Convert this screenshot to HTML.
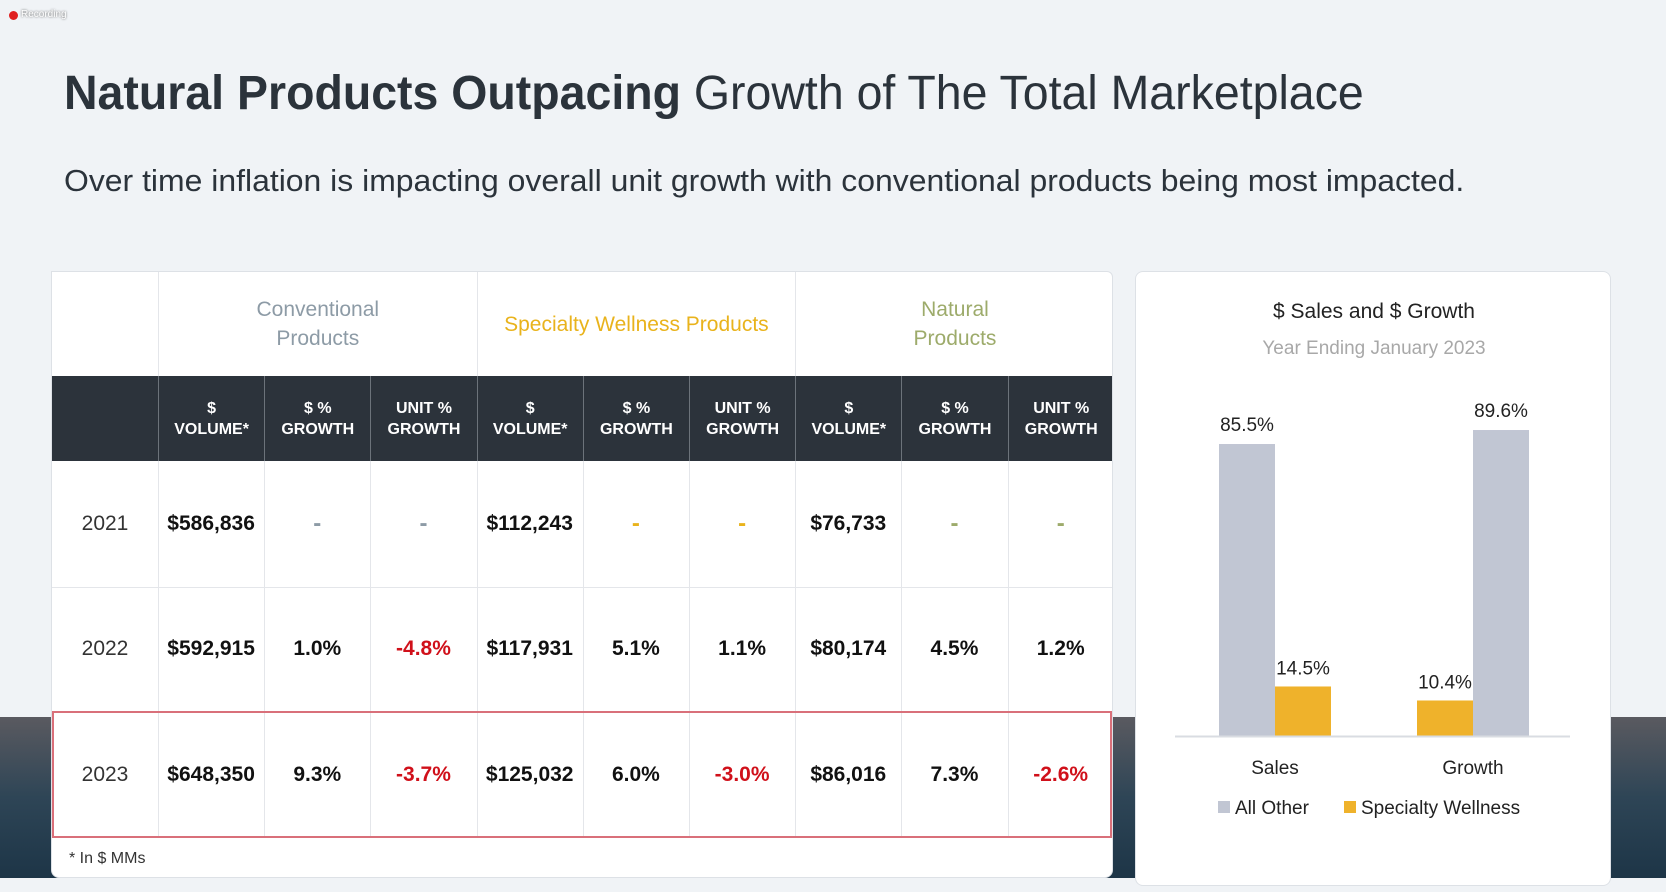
<!DOCTYPE html>
<html><head><meta charset="utf-8"><style>
*{margin:0;padding:0;box-sizing:border-box}
body{width:1666px;height:878px;overflow:hidden;background:#f0f3f6;font-family:"Liberation Sans",sans-serif;position:relative}
.abs{position:absolute}
#bottom{left:0;top:717px;width:1666px;height:161px;background:linear-gradient(180deg,#5a5a60 0%,#2e4556 50%,#1d3547 100%)}
#title{left:64px;top:66px;font-size:48px;color:#2b333b;white-space:nowrap;transform-origin:0 0;transform:scaleX(0.968)}
#sub{left:64px;top:163px;font-size:31px;color:#2b333b;white-space:nowrap;transform-origin:0 0;transform:scaleX(1.03)}
#table{left:51px;top:271px;width:1062px;height:607px;background:#fff;border-radius:0 6px 8px 8px;border:1px solid #dde1e6;overflow:hidden}
.cell{position:absolute;display:flex;align-items:center;justify-content:center;text-align:center}
.hd{background:#2c333b;color:#fff;font-weight:bold;font-size:16px;line-height:21px;border-left:1px solid #6c737a}
.grp{font-size:21px;line-height:29px}
.v{font-size:21px;font-weight:bold;color:#111}
.yr{font-size:21px;color:#333}
.vl{position:absolute;width:1px;background:#e4e6ea}
#panel{left:1135px;top:271px;width:476px;height:615px;background:#fff;border:1px solid #dde1e6;border-radius:8px}
</style></head><body>
<div class="abs" id="bottom"></div>
<div class="abs" style="left:9px;top:11px;width:9px;height:9px;border-radius:50%;background:#e02020"></div>
<div class="abs" style="left:21px;top:9px;font-size:10px;color:#fff;text-shadow:0 0 2px #555">Recording</div>
<div class="abs" id="title"><b>Natural Products Outpacing</b> Growth of The Total Marketplace</div>
<div class="abs" id="sub">Over time inflation is impacting overall unit growth with conventional products being most impacted.</div>

<div class="abs" id="table"></div>

<div class="abs" id="panel">
<svg id="chart" width="476" height="615"></svg>
</div>

<script>
// ---------- table ----------
const groups=["Conventional<br>Products","Specialty Wellness Products","Natural<br>Products"];
const groupColors=["#8d9ba6","#e9b31c","#9dab6b"];
const subHeads=["$<br>VOLUME*","$ %<br>GROWTH","UNIT %<br>GROWTH"];
const years=["2021","2022","2023"];
const rows=[
 ["$586,836","-","-","$112,243","-","-","$76,733","-","-"],
 ["$592,915","1.0%","-4.8%","$117,931","5.1%","1.1%","$80,174","4.5%","1.2%"],
 ["$648,350","9.3%","-3.7%","$125,032","6.0%","-3.0%","$86,016","7.3%","-2.6%"]
];
const T=document.getElementById('table');
const c0=106, cw=106.2, hH=104, dH=85, rH=125.5;
function mk(html,cls,x,y,w,h,st){const d=document.createElement('div');d.className='cell '+cls;d.innerHTML=html;
 d.style.left=x+'px';d.style.top=y+'px';d.style.width=w+'px';d.style.height=h+'px';if(st)d.style.cssText+=st;T.appendChild(d);return d;}
groups.forEach((g,i)=>{const d=mk(g,'grp',c0+i*3*cw,0,3*cw,hH,'color:'+groupColors[i]+';border-left:1px solid #e4e6ea');
 
 });
const hb=mk('','hd',0,hH,c0,dH,'border-left:none');


for(let i=0;i<9;i++){const d=mk(subHeads[i%3],'hd',c0+i*cw,hH,cw,dH);
 
 }
for(let i=1;i<10;i++){const l=document.createElement('div');l.className='vl';l.style.left=(c0+(i-1)*cw)+'px';l.style.top=(hH+dH)+'px';l.style.height=(3*rH)+'px';T.appendChild(l);}
years.forEach((y,r)=>{const top=hH+dH+r*rH;
 const yd=mk(y,'yr',0,top,c0,rH);
 
 
 if(r<2){const hl=document.createElement('div');hl.className='vl';hl.style.cssText+='left:0;width:100%;height:1px;top:'+(top+rH)+'px';T.appendChild(hl);}
 rows[r].forEach((v,i)=>{let col='#111';
  if(v==='-')col=groupColors[Math.floor(i/3)];else if(v[0]==='-')col='#d0101a';
  const d=mk(v==='-'?'<span style="font-size:24px">-</span>':v,'v',c0+i*cw,top,cw,rH,'color:'+col);
  
  });
});
const hi=document.createElement('div');hi.style.cssText='position:absolute;left:0;top:'+(hH+dH+2*rH-1)+'px;width:1060px;height:'+(rH+1)+'px;border:2px solid #d9707a';


T.appendChild(hi);
const fn=document.createElement('div');fn.textContent='* In $ MMs';fn.style.cssText='position:absolute;left:17px;top:578px;font-size:16px;color:#333';


T.appendChild(fn);

// ---------- chart ----------
const categories=["Sales","Growth"];
const allOther=[85.5,89.6];
const specialty=[14.5,10.4];
const seriesNames=["All Other","Specialty Wellness"];
const NS='http://www.w3.org/2000/svg';
const S=document.getElementById('chart');
const baseY=464, pxPer=3.415, barW=56;
const catX=[139,337];
function yScale(v){return baseY-v*pxPer;}
function el(t,a,txt){const e=document.createElementNS(NS,t);for(const k in a)e.setAttribute(k,a[k]);if(txt!==undefined)e.textContent=txt;S.appendChild(e);return e;}
let t=el('text',{x:238,y:46,'text-anchor':'middle','font-size':21,fill:'#222'},'$ Sales and $ Growth');


t=el('text',{x:238,y:82,'text-anchor':'middle','font-size':19,fill:'#a8a8a8'},'Year Ending January 2023');


categories.forEach((c,i)=>{
  const cx=catX[i];
  const grayFirst = i===0;
  const gx = grayFirst? cx-barW : cx;
  const ox = grayFirst? cx : cx-barW;
  const g=el('rect',{x:gx,y:yScale(allOther[i]),width:barW,height:allOther[i]*pxPer,fill:'#c1c6d3'});
  
  
  const o=el('rect',{x:ox,y:yScale(specialty[i]),width:barW,height:specialty[i]*pxPer,fill:'#efb22b'});
  
  
  let l=el('text',{x:gx+barW/2,y:yScale(allOther[i])-13,'text-anchor':'middle','font-size':19,fill:'#222'},allOther[i].toFixed(1)+'%');
  
  
  l=el('text',{x:ox+barW/2,y:yScale(specialty[i])-12,'text-anchor':'middle','font-size':19,fill:'#222'},specialty[i].toFixed(1)+'%');
  
  
  l=el('text',{x:cx,y:502,'text-anchor':'middle','font-size':19,fill:'#222'},c);
  
  
});
const ax=el('line',{x1:39,x2:434,y1:baseY+0.5,y2:baseY+0.5,stroke:'#d9dce2','stroke-width':2});


const legX=[82,208], legC=['#c1c6d3','#efb22b'];
seriesNames.forEach((n,i)=>{
  const r=el('rect',{x:legX[i],y:529,width:12,height:12,fill:legC[i]});
  
  
  const tx=el('text',{x:legX[i]+17,y:542,'font-size':19,fill:'#222'},n);
  
  
});
</script>
</body></html>
